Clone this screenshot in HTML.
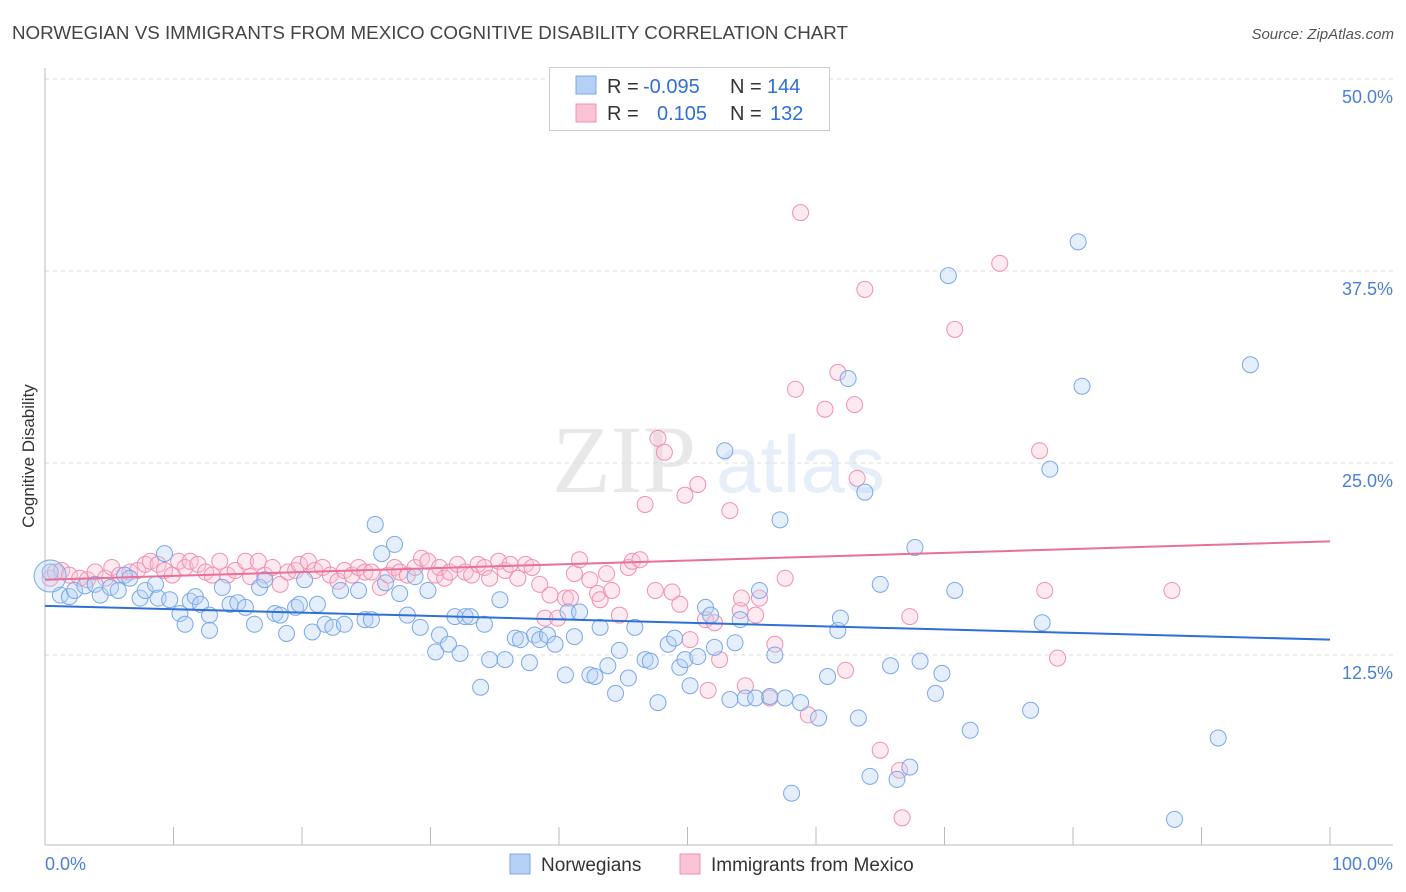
<!DOCTYPE html>
<html><head><meta charset="utf-8"><style>
body{margin:0;background:#fff;font-family:"Liberation Sans",sans-serif}
svg{display:block}
</style></head><body>
<svg id="chart" width="1406" height="892">
<text x="12" y="39" font-size="18" fill="#444" textLength="836" lengthAdjust="spacingAndGlyphs">NORWEGIAN VS IMMIGRANTS FROM MEXICO COGNITIVE DISABILITY CORRELATION CHART</text>
<text x="1394" y="39" font-size="15" fill="#555" font-style="italic" text-anchor="end">Source: ZipAtlas.com</text>
<text transform="translate(34,456) rotate(-90)" font-size="17" fill="#333" text-anchor="middle">Cognitive Disability</text>
<g opacity="0.13">
<text x="552" y="492" font-size="96" font-family="Liberation Serif,serif" fill="#555">ZIP</text>
<text x="716" y="492" font-size="80" fill="#4a7fd6">atlas</text>
</g>
<g id="grid"></g><g id="axes"></g><g id="lines"></g><g id="pts"></g>
<g>
<rect x="549.5" y="67.5" width="280" height="63" fill="#fff" stroke="#ccc"/>
<rect x="576" y="76" width="20" height="18" fill="#b5d0f4" stroke="#7aa8e8"/>
<rect x="576" y="104" width="20" height="18" fill="#f9c3d3" stroke="#f090b0"/>
<text x="607" y="93" font-size="20" fill="#333">R = <tspan x="643" fill="#2f6fd6">-0.095</tspan></text>
<text x="730" y="93" font-size="20" fill="#333">N = <tspan x="767" fill="#2f6fd6">144</tspan></text>
<text x="607" y="120" font-size="20" fill="#333">R = <tspan x="657" fill="#2f6fd6">0.105</tspan></text>
<text x="730" y="120" font-size="20" fill="#333">N = <tspan x="770" fill="#2f6fd6">132</tspan></text>
</g>
<g>
<rect x="510" y="854" width="20" height="20" fill="#b5d0f4" stroke="#7aa8e8"/>
<text x="541" y="871" font-size="19" fill="#333">Norwegians</text>
<rect x="680" y="854" width="20" height="20" fill="#f9c3d3" stroke="#f090b0"/>
<text x="711" y="871" font-size="19" fill="#333">Immigrants from Mexico</text>
</g>
</svg>
<script>
const yTicks=[12.5,25,37.5,50];
const yTickLabels=["12.5%","25.0%","37.5%","50.0%"];
const xTickLabels=["0.0%","100.0%"];
const blueX=[0.4,1.2,1.9,2.3,3.1,3.9,4.3,5.1,5.7,6.2,6.6,7.4,7.8,8.6,8.8,9.3,9.7,10.5,10.9,11.3,11.7,12.1,12.8,12.8,13.8,14.4,15.0,15.6,16.3,16.7,17.1,17.9,18.3,18.8,19.5,19.8,20.2,20.8,21.2,21.8,22.4,23.0,23.3,24.4,24.9,25.4,25.7,26.2,26.5,27.2,27.6,28.2,28.8,29.2,29.8,30.4,30.7,31.4,31.9,32.3,32.7,33.1,33.9,34.2,34.6,35.4,35.8,36.6,37.0,37.7,38.1,38.5,39.1,39.7,40.5,40.7,41.2,41.6,42.4,42.8,43.2,43.8,44.4,44.7,45.4,45.9,46.7,47.1,47.7,48.5,49.0,49.4,49.8,50.2,50.8,51.4,51.8,52.1,52.9,53.3,53.7,54.1,54.5,55.3,55.6,56.4,56.8,57.2,57.6,58.1,58.8,60.2,60.9,61.7,61.9,62.5,63.3,63.8,64.2,65.0,65.8,66.3,67.3,67.7,68.1,69.3,69.8,70.3,70.8,72.0,76.7,77.6,78.2,80.4,80.7,87.9,91.3,93.8];
const blueY=[17.9,16.4,16.3,16.7,17.0,17.1,16.4,16.9,16.7,17.7,17.5,16.2,16.7,17.1,16.2,19.1,16.1,15.2,14.5,16.0,16.3,15.8,15.1,14.1,16.9,15.8,15.9,15.6,14.5,16.9,17.4,15.2,15.1,13.9,15.6,15.8,17.4,14.0,15.8,14.5,14.3,16.7,14.5,16.7,14.8,14.8,21.0,19.1,17.2,19.7,16.5,15.1,17.6,14.3,16.7,12.7,13.8,13.2,15.0,12.6,15.0,15.0,10.4,14.5,12.2,16.1,12.2,13.6,13.5,12.0,13.8,13.5,13.8,13.2,11.2,15.3,13.7,15.3,11.2,11.1,14.3,11.8,10.0,12.8,11.0,14.3,12.2,12.1,9.4,13.2,13.6,11.7,12.2,10.5,12.4,15.6,15.1,13.0,25.8,9.6,13.3,14.8,9.7,9.7,16.7,9.8,12.5,21.3,9.7,3.5,9.4,8.4,11.1,14.1,14.9,30.5,8.4,23.1,4.6,17.1,11.8,4.4,5.2,19.5,12.1,10.0,11.3,37.2,16.7,7.6,8.9,14.6,24.6,39.4,30.0,1.8,7.1,31.4];
const pinkX=[0.4,0.8,1.3,1.9,2.7,3.3,3.9,4.7,5.2,5.8,6.6,7.2,7.8,8.2,8.8,9.3,9.9,10.4,10.9,11.3,11.9,12.5,13.0,13.6,14.2,14.8,15.6,16.0,16.6,17.1,17.7,18.3,18.9,19.5,19.8,20.5,21.0,21.6,22.2,22.8,23.3,23.9,24.4,24.9,25.4,26.1,26.7,27.2,27.6,28.2,28.8,29.3,29.8,30.4,30.7,31.1,31.5,32.1,32.7,33.2,33.7,34.2,34.6,35.3,35.8,36.2,36.8,37.4,37.9,38.5,38.9,39.3,39.9,40.5,40.9,41.2,41.6,42.4,43.0,43.2,43.7,44.1,44.7,45.4,45.7,46.3,46.7,47.5,47.7,48.2,48.8,49.4,49.8,50.2,50.8,51.4,51.6,52.1,52.5,53.3,54.1,54.2,54.5,55.3,55.6,56.4,56.8,57.6,58.4,58.8,59.4,60.7,61.7,62.3,63.0,63.2,63.8,65.0,66.5,66.7,67.3,70.8,74.3,77.4,77.8,78.8,87.7];
const pinkY=[17.5,17.9,18.0,17.7,17.5,17.4,17.9,17.5,18.2,17.7,17.9,18.0,18.4,18.6,18.4,18.0,17.7,18.6,18.2,18.6,18.4,17.9,17.7,18.6,17.7,18.0,18.6,17.6,18.6,17.7,18.2,17.1,17.9,18.0,18.4,18.6,18.0,18.2,17.7,17.3,18.0,17.7,18.2,17.9,17.9,16.9,17.7,18.2,17.9,17.7,18.2,18.8,18.6,17.7,18.2,17.5,17.9,18.4,17.9,17.7,18.4,18.2,17.5,18.6,18.0,18.4,17.5,18.4,18.2,17.1,14.9,16.4,14.9,16.2,16.2,17.8,18.7,17.4,16.5,16.1,17.8,16.7,15.1,18.2,18.6,18.7,22.3,16.7,26.6,25.7,16.6,15.8,22.9,13.5,23.6,14.8,10.2,14.6,12.2,21.9,15.4,16.2,10.5,15.1,16.2,9.7,13.2,17.5,29.8,41.3,8.6,28.5,30.9,11.5,28.8,24.0,36.3,6.3,5.0,1.9,15.0,33.7,38.0,25.8,16.7,12.3,16.7];
const blueTrend=[15.7,13.5];
const pinkTrend=[17.4,19.9];
const NS="http://www.w3.org/2000/svg";
const X0=45,X1=1330,Y0=847,PPU=15.36;
function sx(v){return X0+(X1-X0)*v/100;}
function sy(v){return Y0-v*PPU;}
function mk(tag,attrs,parent){const e=document.createElementNS(NS,tag);for(const k in attrs)e.setAttribute(k,attrs[k]);parent.appendChild(e);return e;}
const grid=document.getElementById('grid'),axes=document.getElementById('axes'),lines=document.getElementById('lines'),pts=document.getElementById('pts');
yTicks.forEach((t,i)=>{
 const l=mk('line',{x1:X0,x2:1393,y1:sy(t),y2:sy(t),stroke:'#ddd','stroke-dasharray':'4,4'},grid);
 
 
 const tx=mk('text',{x:1393,y:sy(t)+24,'font-size':18,fill:'#4a7fd6','text-anchor':'end'},axes);
 tx.textContent=yTickLabels[i];
 
 
});
const xa=mk('line',{x1:X0,x2:1393,y1:845,y2:845,stroke:'#bbb'},axes);


const ya=mk('line',{x1:X0,x2:X0,y1:68,y2:845,stroke:'#bbb'},axes);


for(let i=0;i<=10;i++){
 const t=mk('line',{x1:sx(i*10),x2:sx(i*10),y1:827,y2:845,stroke:'#bbb'},axes);
 
 
}
const xl0=mk('text',{x:45,y:870,'font-size':18,fill:'#4a7fd6'},axes);xl0.textContent=xTickLabels[0];


const xl1=mk('text',{x:1393,y:870,'font-size':18,fill:'#4a7fd6','text-anchor':'end'},axes);xl1.textContent=xTickLabels[1];


function pointsFor(xs,ys,fill,stroke,name){
 xs.forEach((x,i)=>{
  const c=mk('circle',{cx:sx(x),cy:sy(ys[i]),r:8,fill:fill,'fill-opacity':0.35,stroke:stroke,'stroke-width':1},pts);
  
  
 });
}
pointsFor(pinkX,pinkY,'#f9c3d3','#f090b0','mexico-point');
pointsFor(blueX,blueY,'#b5d0f4','#7aa8e8','norwegian-point');
const big=mk('circle',{cx:sx(blueX[0]),cy:sy(blueY[0])+4,r:16,fill:'#b5d0f4','fill-opacity':0.35,stroke:'#7aa8e8'},pts);


const bl=mk('line',{x1:sx(0),x2:sx(100),y1:sy(blueTrend[0]),y2:sy(blueTrend[1]),stroke:'#2f6fd6','stroke-width':2},lines);


const pl=mk('line',{x1:sx(0),x2:sx(100),y1:sy(pinkTrend[0]),y2:sy(pinkTrend[1]),stroke:'#e8709a','stroke-width':2},lines);


document.getElementById('chart').appendChild(lines);
</script>
</body></html>
